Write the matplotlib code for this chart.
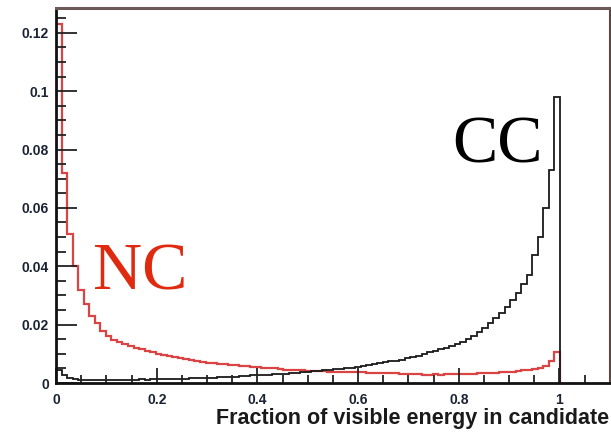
import numpy as np
import matplotlib
matplotlib.use("Agg")
from matplotlib import pyplot as plt
from matplotlib.ticker import MultipleLocator, FormatStrFormatter

# histogram: 0 .. 1.1 in 100 bins, only the first 91 filled
bin_width = 0.011

nc_values = [
    0.123, 0.072, 0.051, 0.040, 0.032, 0.027, 0.023, 0.0205, 0.0178, 0.016,
    0.0148, 0.0140, 0.0132, 0.0126, 0.0120, 0.0115, 0.0110, 0.0105, 0.0100, 0.0096,
    0.0092, 0.0088, 0.0085, 0.0082, 0.0079, 0.0076, 0.0073, 0.0070, 0.0068, 0.0066,
    0.0064, 0.0062, 0.0060, 0.0058, 0.0057, 0.0055, 0.0054, 0.0052, 0.0051, 0.0050,
    0.0048, 0.0046, 0.0045, 0.0044, 0.0043, 0.0042, 0.0041, 0.0040, 0.0040, 0.0039,
    0.0039, 0.0038, 0.0038, 0.0037, 0.0037, 0.0036, 0.0035, 0.0035, 0.0034, 0.0034,
    0.0033, 0.0033, 0.0032, 0.0031, 0.0030, 0.0030, 0.0029, 0.0029, 0.0030, 0.0029,
    0.0030, 0.0030, 0.0031, 0.0031, 0.0032, 0.0032, 0.0033, 0.0033, 0.0034, 0.0035,
    0.0036, 0.0037, 0.0039, 0.0041, 0.0043, 0.0045, 0.0048, 0.0052, 0.0058, 0.0075,
    0.0106,
]

cc_values = [
    0.0045, 0.0028, 0.0018, 0.0013, 0.0011, 0.0010, 0.0010, 0.0011, 0.0010, 0.0011,
    0.0011, 0.0012, 0.0011, 0.0012, 0.0012, 0.0013, 0.0012, 0.0013, 0.0013, 0.0014,
    0.0014, 0.0014, 0.0015, 0.0015, 0.0016, 0.0016, 0.0017, 0.0017, 0.0018, 0.0019,
    0.0020, 0.0021, 0.0022, 0.0024, 0.0025, 0.0026, 0.0027, 0.0028, 0.0029, 0.0030,
    0.0031, 0.0032, 0.0034, 0.0035, 0.0037, 0.0038, 0.0040, 0.0041, 0.0043, 0.0045,
    0.0047, 0.0049, 0.0050, 0.0052, 0.0055, 0.0058, 0.0061, 0.0064, 0.0068, 0.0071,
    0.0074, 0.0077, 0.0080, 0.0084, 0.0088, 0.0093, 0.0099, 0.0105, 0.0110, 0.0115,
    0.0120, 0.0126, 0.0133, 0.0141, 0.0150, 0.0162, 0.0175, 0.0190, 0.0205, 0.0222,
    0.0240, 0.0260, 0.0285, 0.0310, 0.0340, 0.0370, 0.0440, 0.0500, 0.0600, 0.0730,
    0.0980,
]

x_ticks = [0, 0.2, 0.4, 0.6, 0.8, 1.0]
y_ticks = [0, 0.02, 0.04, 0.06, 0.08, 0.1, 0.12]

edges = np.arange(len(nc_values) + 1) * bin_width

fig = plt.figure(figsize=(6.11, 4.34), dpi=100)
ax = fig.add_axes([0.0917, 0.1175, 0.9063, 0.8641])

ax.stairs(nc_values, edges, baseline=0, color="#d83030", lw=1.6, alpha=0.9)
ax.stairs(cc_values, edges, baseline=0, color="#1a1a1a", lw=1.3)

ax.set_xlim(0, 1.1)
ax.set_ylim(0, 0.1285)

ax.xaxis.set_major_locator(plt.FixedLocator(x_ticks))
ax.yaxis.set_major_locator(plt.FixedLocator(y_ticks))
ax.xaxis.set_minor_locator(MultipleLocator(0.05))
ax.yaxis.set_minor_locator(MultipleLocator(0.005))
ax.xaxis.set_major_formatter(FormatStrFormatter("%g"))
ax.yaxis.set_major_formatter(FormatStrFormatter("%g"))

ax.tick_params(axis="both", which="both", direction="in", color="#222222",
               labelcolor="#1a2233", width=1.3)
ax.tick_params(axis="y", which="major", length=15, pad=5)
ax.tick_params(axis="y", which="minor", length=7)
ax.tick_params(axis="x", which="major", length=11, pad=7)
ax.tick_params(axis="x", which="minor", length=6)
for lab in ax.get_xticklabels() + ax.get_yticklabels():
    lab.set_fontfamily("Liberation Sans")
    lab.set_fontweight("bold")
    lab.set_fontsize(10)

ax.spines["left"].set_linewidth(2)
ax.spines["bottom"].set_linewidth(2)
ax.spines["left"].set_color("#111111")
ax.spines["bottom"].set_color("#111111")
ax.spines["top"].set_color("#6b5a58")
ax.spines["top"].set_linewidth(2.2)
ax.spines["right"].set_color("#5a4848")
ax.spines["right"].set_linewidth(1.5)

ax.text(0.073, 0.032, "NC", color="#e02a10", fontsize=49,
        fontfamily="Liberation Serif")
ax.text(0.787, 0.0755, "CC", color="black", fontsize=49,
        fontfamily="Liberation Serif")

fig.text(0.997, 0.012, "Fraction of visible energy in candidate", ha="right",
         va="bottom", fontsize=15.5, fontweight="bold",
         fontfamily="Liberation Sans", color="#1a1a1a")

fig.savefig("out.png", dpi=100)
